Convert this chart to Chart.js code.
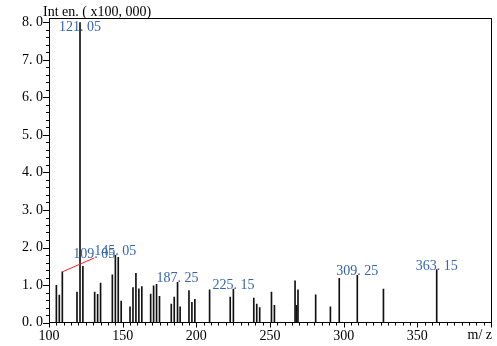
<!DOCTYPE html>
<html>
<head>
<meta charset="utf-8">
<script src="https://cdn.jsdelivr.net/npm/chart.js@4.4.1/dist/chart.umd.min.js"></script>
<style>
  html, body { margin: 0; padding: 0; background: #fff; }
  #wrap { width: 497px; height: 346px; position: relative; }
</style>
</head>
<body>
<div id="wrap"><canvas id="c" width="497" height="346"></canvas></div>
<script>
// ---- data (m/z, intensity x100,000) ----
const mzValues = [105, 107, 109.05, 119, 121.05, 123, 131, 133, 135, 143, 145.05, 147, 149,
  155, 157, 159, 161, 163, 169, 171, 173, 175, 183, 185, 187.25, 189, 195, 197, 199, 209,
  223, 225.15, 239, 241, 243, 251, 253, 267, 268, 269, 281, 291, 297, 309.25, 327, 363.15];
const intensities = [0.99, 0.73, 1.35, 0.81, 8.0, 1.50, 0.81, 0.75, 1.05, 1.27, 1.79, 1.74, 0.57,
  0.42, 0.93, 1.31, 0.90, 0.96, 0.76, 0.98, 1.02, 0.70, 0.49, 0.68, 1.07, 0.42, 0.85, 0.54, 0.62, 0.87,
  0.68, 0.89, 0.65, 0.49, 0.40, 0.81, 0.46, 1.11, 0.46, 0.87, 0.74, 0.42, 1.18, 1.26, 0.89, 1.41];
const labeledPeaks = [121.05, 109.05, 145.05, 187.25, 225.15, 309.25, 363.15];
const peakLabelTexts = ['121. 05', '109. 05', '145. 05', '187. 25', '225. 15', '309. 25', '363. 15'];
const xTickValues = [100, 150, 200, 250, 300, 350];
const yTickValues = [0, 1, 2, 3, 4, 5, 6, 7, 8];
const yAxisTitle = 'Int en. ( x100, 000)';
const xAxisTitle = 'm/ z';

const FONT = '14px "Liberation Serif", "Times New Roman", serif';
const fmt = (v, d) => v.toFixed(d).replace('.', '. ');

const spectrumPlugin = {
  id: 'spectrum',
  afterDraw(chart) {
    const ctx = chart.ctx;
    const a = chart.chartArea;
    const xs = chart.scales.x, ys = chart.scales.y;
    ctx.save();
    // frame (top/right)
    ctx.strokeStyle = '#000';
    ctx.lineWidth = 1;
    ctx.beginPath();
    ctx.moveTo(a.left, a.top + 0.5); ctx.lineTo(a.right + 0.5, a.top + 0.5);
    ctx.moveTo(a.right + 0.5, a.top); ctx.lineTo(a.right + 0.5, a.bottom);
    ctx.stroke();
    // y ticks (major every 1, minor every 0.2)
    ctx.beginPath();
    for (let i = 0; i <= 40; i++) {
      const v = i * 0.2;
      const py = Math.round(ys.getPixelForValue(v)) + 0.5;
      const len = (i % 5 === 0) ? 6 : 3;
      ctx.moveTo(a.left - len, py); ctx.lineTo(a.left, py);
    }
    // x ticks (major every 50, minor every 5)
    for (let v = 100; v <= 400; v += 5) {
      const px = Math.round(xs.getPixelForValue(v)) + 0.5;
      const len = (v % 50 === 0) ? 5 : 3;
      ctx.moveTo(px, a.bottom); ctx.lineTo(px, a.bottom + len);
    }
    ctx.stroke();
    // titles
    ctx.fillStyle = '#000';
    ctx.font = FONT;
    ctx.textBaseline = 'alphabetic';
    ctx.textAlign = 'left';
    ctx.fillText(yAxisTitle, 43, 16);
    ctx.textAlign = 'right';
    ctx.fillText(xAxisTitle, 492, 339);
    // peak labels
    const meta = chart.getDatasetMeta(0);
    ctx.textAlign = 'center';
    labeledPeaks.forEach((mz, k) => {
      const idx = mzValues.indexOf(mz);
      const el = meta.data[idx];
      let cx = el.x, by = Math.max(el.y, a.top + 13);
      if (mz === 109.05) {
        const nx = cx + 32, ny = by - 14;
        ctx.strokeStyle = '#ff2020';
        ctx.beginPath();
        ctx.moveTo(el.x, el.y); ctx.lineTo(nx, ny);
        ctx.stroke();
        cx = nx; by = ny;
      }
      ctx.fillStyle = '#3464b4';
      ctx.fillText(peakLabelTexts[k], cx, by);
    });
    ctx.restore();
  }
};

new Chart(document.getElementById('c'), {
  type: 'bar',
  data: {
    datasets: [{
      data: mzValues.map((m, i) => ({ x: m, y: intensities[i] })),
      backgroundColor: '#111',
      borderWidth: 0,
      barThickness: 1
    }]
  },
  options: {
    responsive: false,
    animation: false,
    events: [],
    layout: { padding: { top: 18, right: 6, left: 0, bottom: 0 } },
    plugins: { legend: { display: false }, tooltip: { enabled: false }, title: { display: false } },
    scales: {
      x: {
        type: 'linear',
        min: 100, max: 400,
        offset: false,
        grid: { display: false, drawTicks: false },
        border: { display: true, color: '#000', width: 1 },
        afterFit: s => { s.height = 23.5; },
        afterBuildTicks: s => { s.ticks = xTickValues.map(v => ({ value: v })); },
        ticks: {
          color: '#000', font: { family: '"Liberation Serif", serif', size: 14 },
          padding: 5, maxRotation: 0, autoSkip: false,
          callback: v => String(v)
        }
      },
      y: {
        min: 0, max: 8.12,
        grid: { display: false, drawTicks: false },
        border: { display: true, color: '#000', width: 1 },
        afterFit: s => { s.width = 49; },
        afterBuildTicks: s => { s.ticks = yTickValues.map(v => ({ value: v })); },
        ticks: {
          color: '#000', font: { family: '"Liberation Serif", serif', size: 14 },
          padding: 6, autoSkip: false,
          callback: v => fmt(v, 1)
        }
      }
    }
  },
  plugins: [spectrumPlugin]
});
</script>
</body>
</html>
